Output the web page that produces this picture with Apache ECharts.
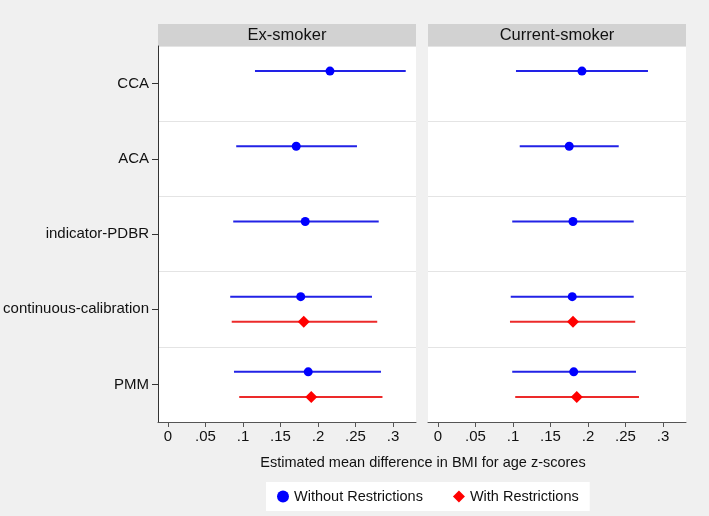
<!DOCTYPE html>
<html>
<head>
<meta charset="utf-8">
<script src="https://cdn.jsdelivr.net/npm/echarts@6/dist/echarts.min.js"></script>
<style>
html,body{margin:0;padding:0;background:#f0f0f0;}
#chart{width:709px;height:516px;}
</style>
</head>
<body>
<div id="chart"></div>
<script>
const categories = ['CCA', 'ACA', 'indicator-PDBR', 'continuous-calibration', 'PMM'];
const panelTitles = ['Ex-smoker', 'Current-smoker'];
const xTickValues = [0, 0.05, 0.1, 0.15, 0.2, 0.25, 0.3];
const xTickLabels = ['0', '.05', '.1', '.15', '.2', '.25', '.3'];
const seriesNames = ['Without Restrictions', 'With Restrictions'];
const xTitle = 'Estimated mean difference in BMI for age z-scores';

// Ex-smoker
const exEst = [0.216, 0.171, 0.183, 0.177, 0.187];
const exLo  = [0.116, 0.091, 0.087, 0.083, 0.088];
const exHi  = [0.317, 0.252, 0.281, 0.272, 0.284];
const exRestrEst = [null, null, null, 0.181, 0.191];
const exRestrLo  = [null, null, null, 0.085, 0.095];
const exRestrHi  = [null, null, null, 0.279, 0.286];
// Current-smoker
const curEst = [0.192, 0.175, 0.180, 0.179, 0.181];
const curLo  = [0.104, 0.109, 0.099, 0.097, 0.099];
const curHi  = [0.280, 0.241, 0.261, 0.261, 0.264];
const curRestrEst = [null, null, null, 0.180, 0.185];
const curRestrLo  = [null, null, null, 0.096, 0.103];
const curRestrHi  = [null, null, null, 0.263, 0.268];

const FONT = '"Liberation Sans", Arial, Helvetica, sans-serif';
const BLUE = '#0000ff', BLUE_LINE = '#2222e6';
const RED = '#ff0000', RED_LINE = '#ec2a2a';

function rowY(i, off) { return i + 0.5 + off; }
function ciData(lo, hi, off) {
  const d = [];
  lo.forEach((v, i) => { if (v != null) d.push([v, hi[i], rowY(i, off)]); });
  return d;
}
function ptData(est, off) {
  const d = [];
  est.forEach((v, i) => { if (v != null) d.push([v, rowY(i, off)]); });
  return d;
}
function ciSeries(name, grid, lo, hi, off, color) {
  return {
    type: 'custom', name: name + ' CI', xAxisIndex: grid, yAxisIndex: grid * 2,
    data: ciData(lo, hi, off), encode: { x: [0, 1], y: 2 }, z: 2, silent: true,
    renderItem: function (params, api) {
      const a = api.coord([api.value(0), api.value(2)]);
      const b = api.coord([api.value(1), api.value(2)]);
      return { type: 'line', shape: { x1: a[0], y1: a[1], x2: b[0], y2: b[1] },
        style: { stroke: color, lineWidth: 2 } };
    }
  };
}
function ptSeries(name, grid, est, off, color, symbol, size) {
  return {
    type: 'scatter', name: name, xAxisIndex: grid, yAxisIndex: grid * 2,
    data: ptData(est, off), symbol: symbol, symbolSize: size, z: 5,
    itemStyle: { color: color, opacity: 1 }
  };
}
const OFF = 1 / 6;

function xAxisOpt(grid) {
  return {
    type: 'value', gridIndex: grid, min: -0.0133, max: 0.3307, position: 'bottom',
    axisLine: { show: true, onZero: false, lineStyle: { color: '#555', width: 1 } },
    axisTick: { show: true, length: 5, lineStyle: { color: '#555' }, customValues: xTickValues },
    axisLabel: { show: true, customValues: xTickValues, color: '#111', fontSize: 15, fontFamily: FONT, margin: 7,
      formatter: function (v) {
        for (let k = 0; k < xTickValues.length; k++) if (Math.abs(xTickValues[k] - v) < 1e-9) return xTickLabels[k];
        return '';
      } },
    splitLine: { show: false }
  };
}
function yValueAxis(grid) {
  return {
    type: 'value', gridIndex: grid, min: 0, max: categories.length, interval: 1, inverse: true,
    axisLine: { show: false, onZero: false }, axisTick: { show: false }, axisLabel: { show: false },
    splitLine: { show: true, lineStyle: { color: '#e4e4e4', width: 1.2 } }
  };
}
function yCatAxis(grid, showLabels) {
  return {
    type: 'category', gridIndex: grid, data: categories, inverse: true, boundaryGap: true, position: 'left',
    axisLine: { show: showLabels, onZero: false, lineStyle: { color: '#333', width: 1 } },
    axisTick: { show: showLabels, alignWithLabel: true, length: 6, lineStyle: { color: '#333' } },
    axisLabel: { show: showLabels, color: '#111', fontSize: 15, fontFamily: FONT, margin: 9 },
    splitLine: { show: false }
  };
}

const chart = echarts.init(document.getElementById('chart'), null, { renderer: 'canvas' });
const option = {
  backgroundColor: '#f0f0f0',
  animation: false,
  textStyle: { fontFamily: FONT },
  grid: [
    { left: 158, right: 709 - 416, top: 46, bottom: 516 - 422, show: true, backgroundColor: '#ffffff', borderWidth: 0 },
    { left: 428, right: 709 - 686, top: 46, bottom: 516 - 422, show: true, backgroundColor: '#ffffff', borderWidth: 0 }
  ],
  xAxis: [xAxisOpt(0), xAxisOpt(1)],
  yAxis: [yValueAxis(0), yCatAxis(0, true), yValueAxis(1), yCatAxis(1, false)],
  legend: {
    data: [{ name: seriesNames[0], icon: 'circle' }, { name: seriesNames[1], icon: 'diamond' }],
    left: 266, top: 482, backgroundColor: '#ffffff', padding: [7, 11], itemGap: 30,
    itemWidth: 12, itemHeight: 12,
    textStyle: { fontSize: 14.5, color: '#111', fontFamily: FONT }
  },
  graphic: [
    { type: 'rect', shape: { x: 158, y: 24, width: 258, height: 22 }, style: { fill: '#d2d2d2' }, silent: true },
    { type: 'rect', shape: { x: 428, y: 24, width: 258, height: 22 }, style: { fill: '#d2d2d2' }, silent: true },
    { type: 'text', x: 287, y: 35, style: { text: panelTitles[0], fill: '#111', font: '16.5px ' + FONT, textAlign: 'center', textVerticalAlign: 'middle' }, silent: true },
    { type: 'text', x: 557, y: 35, style: { text: panelTitles[1], fill: '#111', font: '16.5px ' + FONT, textAlign: 'center', textVerticalAlign: 'middle' }, silent: true },
    { type: 'text', x: 423, y: 463, style: { text: xTitle, fill: '#111', font: '14.5px ' + FONT, textAlign: 'center', textVerticalAlign: 'middle' }, silent: true }
  ],
  series: [
    ciSeries(seriesNames[0], 0, exLo, exHi, -OFF, BLUE_LINE),
    ciSeries(seriesNames[1], 0, exRestrLo, exRestrHi, OFF, RED_LINE),
    ptSeries(seriesNames[0], 0, exEst, -OFF, BLUE, 'circle', 9),
    ptSeries(seriesNames[1], 0, exRestrEst, OFF, RED, 'diamond', 12),
    ciSeries(seriesNames[0], 1, curLo, curHi, -OFF, BLUE_LINE),
    ciSeries(seriesNames[1], 1, curRestrLo, curRestrHi, OFF, RED_LINE),
    ptSeries(seriesNames[0], 1, curEst, -OFF, BLUE, 'circle', 9),
    ptSeries(seriesNames[1], 1, curRestrEst, OFF, RED, 'diamond', 12)
  ]
};
chart.setOption(option);
</script>
</body>
</html>
